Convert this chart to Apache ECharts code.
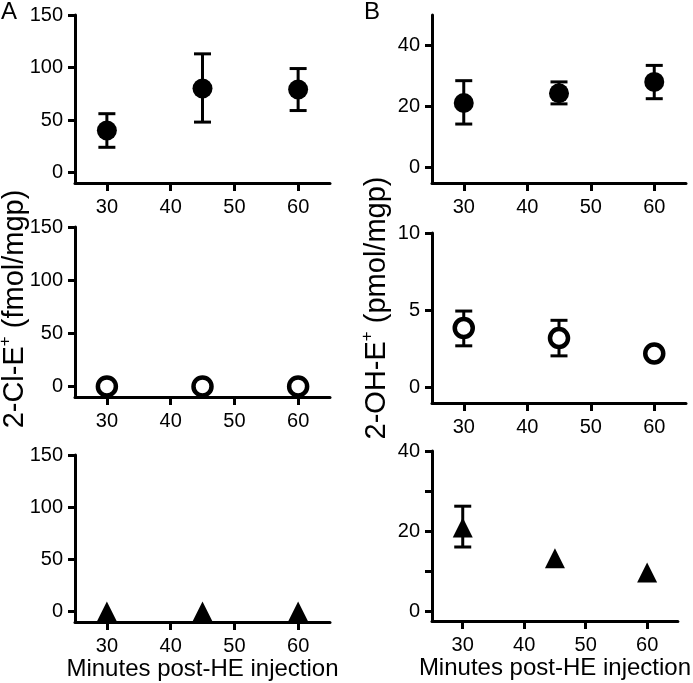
<!DOCTYPE html>
<html><head><meta charset="utf-8">
<script src="https://cdn.jsdelivr.net/npm/echarts@6/dist/echarts.min.js"></script>
<style>html,body{margin:0;padding:0;background:#fff}#c{width:693px;height:683px}</style>
</head><body><div id="c"></div>
<script>
// ---- data ----
const minutes = [30, 45, 60];
const xTicks = [30, 40, 50, 60];
// Panel A: 2-Cl-E+ (fmol/mgp)
const a1Mean = [40, 80, 79];
const a1Low = [24, 48, 59];
const a1High = [56, 113, 99];
const a2Mean = [0, 0, 0];
const a3Mean = [0, 0, 0];
const aTicks = [0, 50, 100, 150];
// Panel B: 2-OH-E+ (pmol/mgp)
const b1Mean = [21.2, 24.4, 28.1];
const b1Low = [14.3, 20.9, 22.6];
const b1High = [28.5, 28.1, 33.5];
const b2Mean = [3.85, 3.2, 2.2];
const b2Low = [2.7, 2.05, null];
const b2High = [4.95, 4.35, null];
const b3Mean = [20.9, 13.2, 9.6];
const b3Low = [16, null, null];
const b3High = [26.2, null, null];
const b1Ticks = [0, 20, 40];
const b2Ticks = [0, 5, 10];
const b3Ticks = [0, 10, 20, 30, 40];
const b3Labels = [0, 20, 40];

const FONT = 'Liberation Sans, Arial, sans-serif';
const chart = echarts.init(document.getElementById('c'), null, {renderer: 'canvas'});

const grids = [
  {left: 75, top: 15, width: 255, height: 168},
  {left: 75, top: 227, width: 255, height: 170},
  {left: 75, top: 455, width: 255, height: 167},
  {left: 432, top: 15, width: 254, height: 168},
  {left: 432, top: 233, width: 254, height: 170},
  {left: 432, top: 451, width: 254, height: 170}
];
const yCfg = [
  {min: -10, max: 150, ticks: aTicks, labels: aTicks},
  {min: -10, max: 150, ticks: aTicks, labels: aTicks},
  {min: -10, max: 150, ticks: aTicks, labels: aTicks},
  {min: -5, max: 50, ticks: b1Ticks, labels: b1Ticks},
  {min: -1, max: 10, ticks: b2Ticks, labels: b2Ticks},
  {min: -2.5, max: 40, ticks: b3Ticks, labels: b3Labels}
];
const lineStyle = {color: '#000', width: 3};
const xAxes = grids.map((g, i) => ({
  type: 'value', gridIndex: i, min: 25, max: 65,
  axisLine: {show: true, onZero: false, lineStyle},
  axisTick: {show: true, customValues: xTicks, length: 8, lineStyle},
  axisLabel: {customValues: xTicks, fontSize: 20, color: '#000', fontFamily: FONT, margin: 14},
  splitLine: {show: false},
  name: (i === 2 || i === 5) ? 'Minutes post-HE injection' : '',
  nameLocation: 'middle', nameGap: 34,
  nameTextStyle: {fontSize: 24, color: '#000', fontFamily: FONT}
}));
const yAxes = yCfg.map((c, i) => ({
  type: 'value', gridIndex: i, min: c.min, max: c.max,
  axisLine: {show: true, lineStyle},
  axisTick: {show: true, customValues: c.ticks, length: 7, lineStyle},
  axisLabel: {customValues: c.labels, fontSize: 20, color: '#000', fontFamily: FONT, margin: 12},
  splitLine: {show: false}
}));

function errSeries(idx, lows, highs) {
  const data = minutes.map((m, i) => [m, lows[i], highs[i]]).filter(d => d[1] != null);
  return {
    type: 'custom', xAxisIndex: idx, yAxisIndex: idx, data, z: 1, silent: true,
    encode: {x: 0, y: [1, 2]},
    renderItem(params, api) {
      const x = api.value(0);
      const lo = api.coord([x, api.value(1)]);
      const hi = api.coord([x, api.value(2)]);
      const hw = 8.5;
      const style = {stroke: '#000', lineWidth: 3, fill: null};
      return {type: 'group', children: [
        {type: 'line', shape: {x1: lo[0], y1: lo[1], x2: hi[0], y2: hi[1]}, style},
        {type: 'line', shape: {x1: lo[0] - hw, y1: lo[1], x2: lo[0] + hw, y2: lo[1]}, style},
        {type: 'line', shape: {x1: hi[0] - hw, y1: hi[1], x2: hi[0] + hw, y2: hi[1]}, style}
      ]};
    }
  };
}
const filled = {symbol: 'circle', symbolSize: 20, itemStyle: {color: '#000', opacity: 1}};
const open = {symbol: 'circle', symbolSize: 18, itemStyle: {color: '#fff', borderColor: '#000', borderWidth: 4.5, opacity: 1}};
const tri = {symbol: 'triangle', symbolSize: [20, 20], itemStyle: {color: '#000', opacity: 1}};
function pts(idx, means, sty) {
  return Object.assign({
    type: 'scatter', xAxisIndex: idx, yAxisIndex: idx, z: 3, silent: true,
    data: minutes.map((m, i) => [m, means[i]])
  }, sty);
}

const series = [
  errSeries(0, a1Low, a1High), pts(0, a1Mean, filled),
  pts(1, a2Mean, open),
  pts(2, a3Mean, tri),
  errSeries(3, b1Low, b1High), pts(3, b1Mean, filled),
  errSeries(4, b2Low, b2High), pts(4, b2Mean, open),
  errSeries(5, b3Low, b3High), pts(5, b3Mean, tri)
];

function yTitle(x, y, main, rest) {
  return {
    type: 'text', x, y, rotation: Math.PI / 2,
    style: {
      text: '{a|' + main + '}{s|+}{a| ' + rest + '}',
      align: 'center', verticalAlign: 'middle',
      rich: {
        a: {fontSize: 29, fontFamily: FONT, fill: '#000', lineHeight: 33, verticalAlign: 'bottom'},
        s: {fontSize: 17, fontFamily: FONT, fill: '#000', lineHeight: 33, verticalAlign: 'top'}
      }
    }
  };
}

chart.setOption({
  animation: false,
  backgroundColor: '#fff',
  grid: grids,
  xAxis: xAxes,
  yAxis: yAxes,
  series,
  graphic: [
    {type: 'text', left: 1, top: 0, style: {text: 'A', fontSize: 24, fontFamily: FONT, fill: '#000'}},
    {type: 'text', left: 364, top: 0, style: {text: 'B', fontSize: 24, fontFamily: FONT, fill: '#000'}},
    yTitle(13, 309, '2-Cl-E', '(fmol/mgp)'),
    yTitle(375, 308, '2-OH-E', '(pmol/mgp)')
  ]
});
</script>
</body></html>
